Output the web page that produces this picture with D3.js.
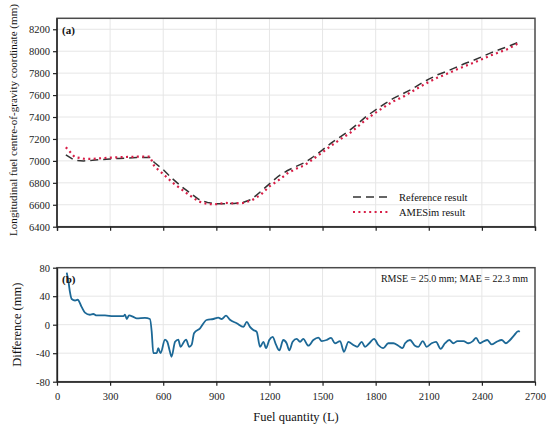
<!DOCTYPE html>
<html>
<head>
<meta charset="utf-8">
<script src="https://cdn.jsdelivr.net/npm/d3@7"></script>
<style>
  body { margin: 0; background: #fff; }
  svg { display: block; font-family: "Liberation Serif", "Times New Roman", serif; }
  svg text { font-family: "Liberation Serif", "Times New Roman", serif; }
</style>
</head>
<body>
<svg id="chart" width="550" height="431"></svg>
<script>
// fuel quantity (L) for panel (a)
var fuelTop = [50, 100, 150, 200, 250, 300, 350, 400, 450, 500, 525, 550, 600, 650, 700, 750, 800, 850, 900, 950,
  1000, 1050, 1100, 1150, 1200, 1250, 1300, 1350, 1400, 1450, 1500, 1550, 1600, 1650, 1700, 1750, 1800, 1850, 1900, 1950,
  2000, 2050, 2100, 2150, 2200, 2250, 2300, 2350, 2400, 2450, 2500, 2550, 2600];
var referenceCg = [7055, 7005, 7000, 7005, 7012, 7018, 7022, 7026, 7030, 7032, 7030, 6985, 6920, 6840, 6770, 6710, 6650, 6620, 6610, 6610,
  6612, 6620, 6650, 6720, 6790, 6860, 6910, 6950, 6985, 7040, 7100, 7165, 7220, 7275, 7340, 7410, 7465, 7520, 7570, 7610,
  7650, 7700, 7745, 7785, 7815, 7850, 7885, 7915, 7950, 7985, 8015, 8045, 8078];
var amesimCg = [7125, 7035, 7020, 7018, 7024, 7030, 7033, 7036, 7038, 7040, 7038, 6950, 6880, 6805, 6745, 6685, 6630, 6607, 6605, 6618,
  6612, 6616, 6640, 6690, 6768, 6822, 6885, 6928, 6962, 7020, 7078, 7140, 7197, 7248, 7314, 7382, 7440, 7494, 7544, 7580,
  7628, 7675, 7720, 7760, 7792, 7828, 7862, 7893, 7927, 7962, 7992, 8022, 8068];

// panel (b) difference
var diffFuel = [55, 65, 73, 83, 102, 117, 139, 158, 186, 205, 224, 271, 318, 375, 384, 394, 407, 431, 450, 497, 525, 535, 544, 563, 572, 585,
  610, 623, 635, 647, 667, 685, 698, 717, 729, 747, 761, 774, 808, 845, 883, 911, 930, 955, 977, 1015, 1053, 1072, 1090, 1109,
  1128, 1147, 1166, 1181, 1199, 1218, 1237, 1256, 1278, 1297, 1312, 1331, 1354, 1373, 1391, 1420, 1448, 1476, 1495, 1523, 1548,
  1570, 1599, 1621, 1646, 1674, 1696, 1721, 1740, 1764, 1791, 1815, 1843, 1871, 1900, 1928, 1952, 1966, 1994, 2022, 2041, 2066,
  2088, 2116, 2141, 2167, 2192, 2216, 2239, 2262, 2296, 2324, 2349, 2367, 2389, 2412, 2431, 2455, 2483, 2512, 2536, 2559, 2583,
  2606, 2614];
var diffValue = [73, 60, 46, 36, 34, 35, 25, 17, 14, 15, 13, 13, 12, 12, 14, 8, 13, 11, 9, 9.5, 8, -10, -40, -40, -33, -40,
  -21, -24, -35, -45, -24, -21, -31, -24, -21, -31, -28, -12, -5, 6.6, 8, 9.8, 8, 12.6, 7, 2, -3, 4, -3, -7.5,
  -10, -31, -24, -33, -21.5, -17, -28, -36, -21.5, -26, -36, -24, -20, -24, -20, -29.5, -21.5, -18, -23, -21.5, -18.5,
  -26, -23, -38, -24, -28.5, -31, -24, -31, -26, -20, -28.5, -33, -26, -26, -29.5, -33, -26, -21.5, -29.5, -31, -23,
  -31, -26, -24, -34, -26, -21.5, -26, -23, -23, -26, -23, -18.5, -26, -23, -21.5, -27.5, -24, -21.5, -26, -21.5, -14.5,
  -9, -10];

var xTicks = [0, 300, 600, 900, 1200, 1500, 1800, 2100, 2400, 2700];
var yTicksTop = [6400, 6600, 6800, 7000, 7200, 7400, 7600, 7800, 8000, 8200];
var yTicksBottom = [-80, -40, 0, 40, 80];

var svg = d3.select("#chart");
var left = 57, right = 535;
var plain = d => String(d);  // hyphen minus, no thousands separator

var x = d3.scaleLinear().domain([0, 2700]).range([left, right]);
var yTop = d3.scaleLinear().domain([6400, 8300]).range([226.7, 18.3]);
var yBot = d3.scaleLinear().domain([-80, 80]).range([381.7, 267.7]);

function panel(y, yTicks, top, bottom) {
  var g = svg.append("g");
  // grid
  g.append("g").selectAll("line").data(xTicks.slice(1, -1)).enter().append("line")
    .attr("x1", d => x(d)).attr("x2", d => x(d))
    .attr("y1", top).attr("y2", bottom)
    .attr("stroke", "#e6e6e6").attr("stroke-width", 1);
  g.append("g").selectAll("line").data(yTicks.filter(d => y(d) > top + 1 && y(d) < bottom - 1)).enter().append("line")
    .attr("x1", left).attr("x2", right)
    .attr("y1", d => y(d)).attr("y2", d => y(d))
    .attr("stroke", "#e6e6e6").attr("stroke-width", 1);
  // frame
  g.append("rect").attr("x", left).attr("y", top)
    .attr("width", right - left).attr("height", bottom - top)
    .attr("fill", "none").attr("stroke", "#4a4a4a").attr("stroke-width", 1.5);
  return g;
}

function styleAxis(a) {
  a.attr("font-family", null).attr("font-size", null);
  a.select(".domain").attr("stroke", "#222").attr("stroke-width", 1.3);
  a.selectAll(".tick line").attr("stroke", "#222").attr("stroke-width", 1.2);
  a.selectAll("text").style("font-family", "'Liberation Serif', serif").style("font-size", "10.5px").attr("fill", "#222");
}

// panel (a)
panel(yTop, yTicksTop, 18.3, 226.7);

var ax = svg.append("g").attr("transform", "translate(0,226.7)")
  .call(d3.axisBottom(x).tickValues(xTicks).tickSize(4).tickFormat(""));
styleAxis(ax);
var ay = svg.append("g").attr("transform", "translate(" + left + ",0)")
  .call(d3.axisLeft(yTop).tickValues(yTicksTop).tickSize(4).tickPadding(3).tickSizeOuter(0).tickFormat(plain));
styleAxis(ay);
ay.select(".domain").attr("d", "M0," + yTop(8300) + "V" + yTop(6400));

var lineTop = d3.line().x(d => x(d[0])).y(d => yTop(d[1]));
svg.append("path").datum(d3.zip(fuelTop, referenceCg))
  .attr("d", lineTop).attr("fill", "none")
  .attr("stroke", "#333").attr("stroke-width", 1.5).attr("stroke-dasharray", "8,5");
svg.append("path").datum(d3.zip(fuelTop, amesimCg))
  .attr("d", lineTop).attr("fill", "none")
  .attr("stroke", "#d81e47").attr("stroke-width", 2.2).attr("stroke-dasharray", "2,3.4");

svg.append("text").attr("x", 62).attr("y", 33.5)
  .attr("font-size", "11px").attr("font-weight", "bold").attr("fill", "#111").text("(a)");

// legend
var legend = svg.append("g");
legend.append("line").attr("x1", 353).attr("x2", 388).attr("y1", 197).attr("y2", 197)
  .attr("stroke", "#333").attr("stroke-width", 1.5).attr("stroke-dasharray", "8,5");
legend.append("text").attr("x", 399).attr("y", 200.5).attr("font-size", "10.5px").attr("fill", "#111").text("Reference result");
legend.append("line").attr("x1", 353).attr("x2", 388).attr("y1", 212).attr("y2", 212)
  .attr("stroke", "#d81e47").attr("stroke-width", 2.2).attr("stroke-dasharray", "2,3.4");
legend.append("text").attr("x", 399).attr("y", 215.5).attr("font-size", "10.5px").attr("fill", "#111").text("AMESim result");

var yTitle = svg.append("text")
  .attr("transform", "translate(13,120) rotate(-90)")
  .attr("text-anchor", "middle").attr("dy", "0.35em")
  .attr("font-size", "12.5px").attr("fill", "#111")
  .text("Longitudinal fuel centre-of-gravity coordinate (mm)");
// shrink to the span it has in the figure
var len = yTitle.node().getComputedTextLength();
if (len > 232) yTitle.attr("font-size", (12.5 * 232 / len).toFixed(2) + "px");

// panel (b)
panel(yBot, yTicksBottom, 267.7, 381.7);

var bx = svg.append("g").attr("transform", "translate(0,381.7)")
  .call(d3.axisBottom(x).tickValues(xTicks).tickSize(4).tickPadding(7).tickSizeOuter(0).tickFormat(plain));
styleAxis(bx);
var by = svg.append("g").attr("transform", "translate(" + left + ",0)")
  .call(d3.axisLeft(yBot).tickValues(yTicksBottom).tickSize(4).tickPadding(3).tickSizeOuter(0).tickFormat(plain));
styleAxis(by);

var lineBot = d3.line().x(d => x(d[0])).y(d => yBot(d[1])).curve(d3.curveMonotoneX);
svg.append("path").datum(d3.zip(diffFuel, diffValue))
  .attr("d", lineBot).attr("fill", "none")
  .attr("stroke", "#1c6896").attr("stroke-width", 1.8).attr("stroke-linejoin", "round");

svg.append("text").attr("x", 62).attr("y", 283)
  .attr("font-size", "11px").attr("font-weight", "bold").attr("fill", "#111").text("(b)");

svg.append("text").attr("x", 528).attr("y", 281.5).attr("text-anchor", "end")
  .attr("font-size", "10px").attr("fill", "#111").text("RMSE = 25.0 mm; MAE = 22.3 mm");

svg.append("text")
  .attr("transform", "translate(17,324.7) rotate(-90)")
  .attr("text-anchor", "middle").attr("dy", "0.35em")
  .attr("font-size", "12.5px").attr("fill", "#111")
  .text("Difference (mm)");

svg.append("text").attr("x", (left + right) / 2).attr("y", 421)
  .attr("text-anchor", "middle").attr("font-size", "12.5px").attr("fill", "#111")
  .text("Fuel quantity (L)");
</script>
</body>
</html>
